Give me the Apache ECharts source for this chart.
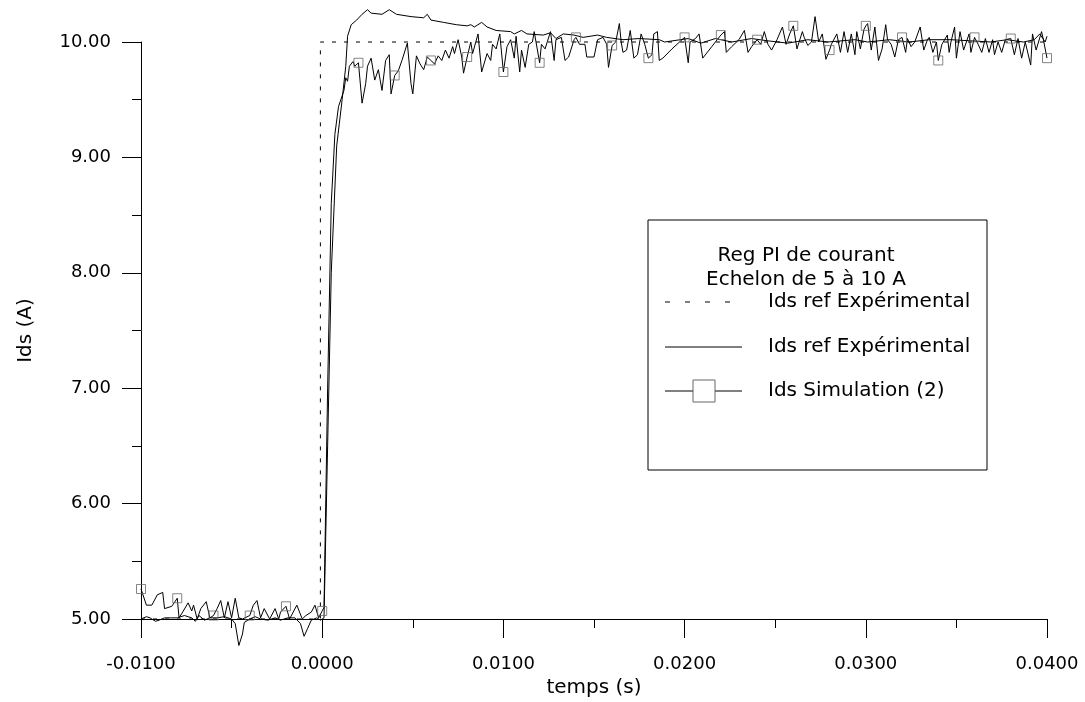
<!DOCTYPE html>
<html>
<head>
<meta charset="utf-8">
<script src="https://cdn.jsdelivr.net/npm/echarts@6/dist/echarts.min.js"></script>
<style>
  body { margin: 0; background: #fff; }
  #chart { width: 1085px; height: 702px; }
</style>
</head>
<body>
<div id="chart"></div>
<script>
// reference step (dashed)
const refT = [-0.0100, -0.0001, -0.0001, 0.0400];
const refV = [5.00, 5.00, 10.00, 10.00];

// measured current (solid)
const expT = [-0.0100, -0.0097, -0.0095, -0.0092, -0.0090, -0.0087, -0.0083, -0.0080, -0.0076, -0.0072,
  -0.0070, -0.0068, -0.0065, -0.0062, -0.0058, -0.0054, -0.0050, -0.0048, -0.0046, -0.0044,
  -0.0043, -0.0040, -0.0037, -0.0034, -0.0030, -0.0026, -0.0023, -0.0019, -0.0015, -0.0012,
  -0.0010, -0.0008, -0.0006, -0.0003, -0.0001, 0.0001, 0.0003, 0.0005, 0.0008, 0.0011,
  0.0013, 0.0014, 0.0016, 0.0019, 0.0022, 0.0025, 0.0027, 0.0033, 0.0037, 0.0041,
  0.0049, 0.0056, 0.0058, 0.0060, 0.0067, 0.0074, 0.0080, 0.0082, 0.0084, 0.0088,
  0.0091, 0.0096, 0.0104, 0.0106, 0.0110, 0.0113, 0.0122, 0.0126, 0.0129, 0.0133,
  0.0139, 0.0144, 0.0152, 0.0157, 0.0166, 0.0175, 0.0186, 0.0189, 0.0202, 0.0209,
  0.0217, 0.0226, 0.0237, 0.0246, 0.0257, 0.0268, 0.0279, 0.0294, 0.0301, 0.0313,
  0.0324, 0.0335, 0.0347, 0.0358, 0.0369, 0.0378, 0.0387, 0.0393, 0.0396, 0.0399, 0.0400];
const expV = [5.00, 5.02, 5.01, 4.98, 4.99, 5.01, 5.01, 5.01, 5.03, 5.01,
  4.98, 5.03, 4.99, 5.01, 5.01, 5.02, 5.00, 4.96, 4.77, 4.87,
  4.97, 5.00, 5.02, 5.00, 4.99, 5.01, 4.99, 5.01, 5.01, 4.96,
  4.85, 4.92, 4.99, 5.01, 4.99, 5.01, 6.50, 8.00, 9.10, 9.50,
  9.79, 10.05, 10.15, 10.19, 10.24, 10.28, 10.25, 10.24, 10.28, 10.24,
  10.22, 10.21, 10.24, 10.19, 10.17, 10.15, 10.14, 10.15, 10.13, 10.17,
  10.13, 10.10, 10.09, 10.07, 10.10, 10.07, 10.06, 10.08, 10.03, 10.07,
  10.06, 10.04, 10.06, 10.04, 10.02, 10.03, 10.02, 10.00, 10.03, 9.99,
  10.03, 10.00, 10.03, 10.01, 9.99, 10.02, 10.00, 10.02, 10.00, 10.02,
  10.00, 10.02, 10.02, 10.01, 10.00, 10.02, 10.00, 10.02, 10.07, 10.00, 10.05];

// simulation (2)
const simT = [-0.0100, -0.0097, -0.0094, -0.0091, -0.0088, -0.0087, -0.0083, -0.0080, -0.0079, -0.0077,
  -0.0074, -0.0072, -0.0071, -0.0069, -0.0067, -0.0064, -0.0062, -0.0060, -0.0058, -0.0056,
  -0.0054, -0.0052, -0.0050, -0.0048, -0.0046, -0.0044, -0.0040, -0.0038, -0.0036, -0.0034,
  -0.0032, -0.0029, -0.0026, -0.0024, -0.0023, -0.0020, -0.0018, -0.0014, -0.0011, -0.0009,
  -0.0006, -0.0004, -0.0002, 0.0000, 0.0001, 0.0003, 0.0005, 0.0007, 0.0009, 0.0012,
  0.0013, 0.0014, 0.0015, 0.0017, 0.0018, 0.0020, 0.0022, 0.0024, 0.0025, 0.0027,
  0.0029, 0.0031, 0.0033, 0.0035, 0.0037, 0.0038, 0.0040, 0.0042, 0.0044, 0.0047,
  0.0049, 0.0050, 0.0052, 0.0054, 0.0056, 0.0058, 0.0060, 0.0062, 0.0064, 0.0066,
  0.0068, 0.0070, 0.0072, 0.0073, 0.0075, 0.0077, 0.0078, 0.0080, 0.0082, 0.0083,
  0.0086, 0.0088, 0.0091, 0.0093, 0.0094, 0.0096, 0.0098, 0.0100, 0.0102, 0.0104,
  0.0106, 0.0107, 0.0109, 0.0110, 0.0112, 0.0114, 0.0116, 0.0117, 0.0120, 0.0121,
  0.0123, 0.0126, 0.0128, 0.0129, 0.0132, 0.0134, 0.0136, 0.0139, 0.0140, 0.0142,
  0.0145, 0.0146, 0.0150, 0.0152, 0.0155, 0.0157, 0.0158, 0.0160, 0.0162, 0.0164,
  0.0165, 0.0166, 0.0168, 0.0170, 0.0172, 0.0174, 0.0176, 0.0178, 0.0180, 0.0182,
  0.0183, 0.0185, 0.0186, 0.0188, 0.0193, 0.0200, 0.0201, 0.0202, 0.0203, 0.0206,
  0.0208, 0.0210, 0.0215, 0.0220, 0.0222, 0.0223, 0.0226, 0.0230, 0.0233, 0.0235,
  0.0237, 0.0240, 0.0242, 0.0244, 0.0246, 0.0248, 0.0251, 0.0254, 0.0256, 0.0258,
  0.0260, 0.0262, 0.0265, 0.0266, 0.0268, 0.0270, 0.0272, 0.0274, 0.0276, 0.0278,
  0.0280, 0.0281, 0.0284, 0.0286, 0.0288, 0.0290, 0.0292, 0.0294, 0.0295, 0.0297,
  0.0299, 0.0300, 0.0301, 0.0303, 0.0305, 0.0307, 0.0309, 0.0311, 0.0312, 0.0314,
  0.0316, 0.0318, 0.0320, 0.0322, 0.0323, 0.0325, 0.0327, 0.0330, 0.0332, 0.0334,
  0.0335, 0.0337, 0.0339, 0.0340, 0.0342, 0.0345, 0.0346, 0.0347, 0.0349, 0.0350,
  0.0352, 0.0354, 0.0357, 0.0358, 0.0360, 0.0362, 0.0364, 0.0366, 0.0368, 0.0370,
  0.0371, 0.0373, 0.0375, 0.0377, 0.0380, 0.0382, 0.0384, 0.0386, 0.0388, 0.0391,
  0.0392, 0.0394, 0.0397, 0.0398, 0.0400];
const simV = [5.26, 5.12, 5.12, 5.21, 5.23, 5.09, 5.11, 5.18, 5.01, 5.06,
  5.14, 5.07, 5.12, 5.00, 5.09, 5.15, 5.01, 5.03, 5.09, 5.16,
  5.01, 5.15, 5.01, 5.18, 5.01, 5.00, 5.03, 5.12, 5.16, 5.01,
  5.09, 5.00, 5.09, 5.00, 5.06, 5.11, 5.00, 5.12, 5.00, 5.03,
  5.06, 5.12, 5.01, 5.07, 5.10, 7.00, 8.60, 9.20, 9.44, 9.58,
  9.69, 9.66, 9.79, 9.83, 9.79, 9.82, 9.47, 9.64, 9.79, 9.86,
  9.67, 9.76, 9.58, 9.84, 9.89, 9.55, 9.71, 9.75, 9.84, 9.99,
  9.64, 9.55, 9.88, 9.81, 9.76, 9.87, 9.84, 9.81, 9.88, 9.84,
  9.93, 9.86, 9.96, 9.90, 10.02, 9.87, 9.73, 9.87, 10.00, 9.90,
  10.07, 9.74, 9.90, 9.84, 9.98, 9.94, 10.07, 9.74, 9.96, 10.02,
  9.86, 10.05, 9.74, 9.93, 9.78, 9.98, 10.00, 10.09, 9.82, 9.98,
  9.94, 10.09, 9.84, 10.02, 10.04, 9.84, 9.87, 10.02, 10.04, 9.98,
  9.98, 9.87, 9.87, 10.02, 10.04, 9.98, 9.78, 9.97, 10.00, 10.16,
  10.00, 9.91, 9.93, 10.10, 9.86, 9.89, 10.07, 9.98, 9.86, 9.89,
  10.07, 10.09, 9.84, 9.86, 9.94, 10.04, 10.05, 9.82, 10.00, 10.03,
  10.07, 9.86, 9.96, 10.06, 10.09, 9.91, 9.96, 10.02, 10.10, 9.91,
  9.96, 10.02, 9.98, 10.09, 9.98, 9.93, 10.02, 10.13, 9.98, 10.07,
  10.14, 9.94, 10.09, 10.04, 9.97, 10.00, 10.22, 10.00, 10.07, 9.85,
  9.93, 9.98, 10.07, 9.91, 10.09, 9.91, 10.07, 9.89, 10.09, 9.94,
  10.11, 10.14, 10.16, 9.93, 10.13, 9.84, 9.94, 10.15, 10.02, 9.98,
  9.87, 10.02, 10.04, 9.91, 10.03, 9.96, 10.00, 10.13, 9.93, 10.02,
  10.04, 9.91, 10.00, 9.84, 9.98, 10.06, 9.91, 10.00, 10.13, 9.86,
  10.09, 9.93, 10.07, 9.91, 10.04, 9.98, 9.91, 10.03, 9.91, 10.02,
  9.89, 10.00, 9.91, 10.02, 10.03, 9.89, 10.03, 9.86, 10.00, 9.80,
  10.07, 9.93, 10.09, 10.02, 9.86];

const xTicks = { min: -0.0100, max: 0.0400, step: 0.0100 };
const yTicks = { min: 5.00, max: 10.00, step: 1.00 };
const legendTitle = ['Reg PI de courant', 'Echelon de 5 à 10 A'];
const legendNames = ['Ids ref Expérimental', 'Ids ref Expérimental', 'Ids Simulation (2)'];

function pairs(t, v) {
  return t.map((x, i) => [x, v[i]]);
}
// a square every 2 ms on the simulation curve
const simMarks = pairs(simT, simV).filter(p => Math.abs(p[0] * 500 - Math.round(p[0] * 500)) < 1e-6);

const FONT = 'DejaVu Sans';
const chart = echarts.init(document.getElementById('chart'));

const axisCommon = {
  axisLine: { onZero: false, lineStyle: { color: '#000', width: 1 } },
  axisTick: { length: 19, lineStyle: { color: '#000', width: 1 } },
  minorTick: { show: true, splitNumber: 2, length: 9, lineStyle: { color: '#000', width: 1 } },
  splitLine: { show: false },
  minorSplitLine: { show: false }
};

const lx = 665, lx2 = 742;
const option = {
  backgroundColor: '#fff',
  animation: false,
  grid: { left: 141, right: 38, top: 42, bottom: 83, containLabel: false, outerBoundsMode: 'none' },
  xAxis: Object.assign({
    type: 'value',
    min: xTicks.min, max: xTicks.max, interval: xTicks.step,
    name: 'temps (s)',
    nameLocation: 'middle',
    nameGap: 59,
    nameTextStyle: { color: '#000', fontFamily: FONT, fontSize: 20 },
    axisLabel: {
      color: '#000', fontFamily: FONT, fontSize: 18, margin: 36,
      showMinLabel: true, showMaxLabel: true,
      formatter: v => v.toFixed(4)
    }
  }, axisCommon),
  yAxis: Object.assign({
    type: 'value',
    min: yTicks.min, max: yTicks.max, interval: yTicks.step,
    name: 'Ids (A)',
    nameLocation: 'middle',
    nameGap: 105,
    nameTextStyle: { color: '#000', fontFamily: FONT, fontSize: 20 },
    axisLabel: {
      color: '#000', fontFamily: FONT, fontSize: 18, margin: 30,
      showMinLabel: true, showMaxLabel: true,
      formatter: v => v.toFixed(2)
    }
  }, axisCommon),
  series: [
    {
      name: 'ref',
      type: 'line',
      data: pairs(refT, refV),
      symbol: 'none',
      clip: false,
      lineStyle: { color: '#000', width: 1, type: [4, 8] }
    },
    {
      name: 'exp',
      type: 'line',
      data: pairs(expT, expV),
      symbol: 'none',
      clip: false,
      lineStyle: { color: '#000', width: 1 }
    },
    {
      name: 'sim',
      type: 'line',
      data: pairs(simT, simV),
      symbol: 'none',
      clip: false,
      lineStyle: { color: '#000', width: 1 }
    },
    {
      name: 'simMarks',
      type: 'scatter',
      data: simMarks,
      symbol: 'rect',
      symbolSize: 9,
      clip: false,
      z: 5,
      itemStyle: { color: 'rgba(255,255,255,0)', borderColor: '#666', borderWidth: 1 }
    }
  ],
  graphic: [
    { type: 'rect', shape: { x: 648, y: 220, width: 339, height: 250 },
      style: { fill: '#fff', stroke: '#000', lineWidth: 1 }, z: 10 },
    { type: 'text', x: 806, y: 256, z: 11,
      style: { text: legendTitle[0], fill: '#000', font: '20px "' + FONT + '"', textAlign: 'center', textVerticalAlign: 'middle' } },
    { type: 'text', x: 806, y: 280, z: 11,
      style: { text: legendTitle[1], fill: '#000', font: '20px "' + FONT + '"', textAlign: 'center', textVerticalAlign: 'middle' } },
    { type: 'line', shape: { x1: lx, y1: 302, x2: lx2, y2: 302 }, z: 11,
      style: { stroke: '#000', lineWidth: 1, lineDash: [5, 15] } },
    { type: 'text', x: 768, y: 302, z: 11,
      style: { text: legendNames[0], fill: '#000', font: '20px "' + FONT + '"', textAlign: 'left', textVerticalAlign: 'middle' } },
    { type: 'line', shape: { x1: lx, y1: 347, x2: lx2, y2: 347 }, z: 11,
      style: { stroke: '#000', lineWidth: 1 } },
    { type: 'text', x: 768, y: 347, z: 11,
      style: { text: legendNames[1], fill: '#000', font: '20px "' + FONT + '"', textAlign: 'left', textVerticalAlign: 'middle' } },
    { type: 'line', shape: { x1: lx, y1: 391, x2: lx2, y2: 391 }, z: 11,
      style: { stroke: '#000', lineWidth: 1 } },
    { type: 'rect', shape: { x: 693, y: 380, width: 22, height: 22 }, z: 12,
      style: { fill: '#fff', stroke: '#666', lineWidth: 1 } },
    { type: 'text', x: 768, y: 391, z: 11,
      style: { text: legendNames[2], fill: '#000', font: '20px "' + FONT + '"', textAlign: 'left', textVerticalAlign: 'middle' } }
  ]
};
chart.setOption(option);
</script>
</body>
</html>
